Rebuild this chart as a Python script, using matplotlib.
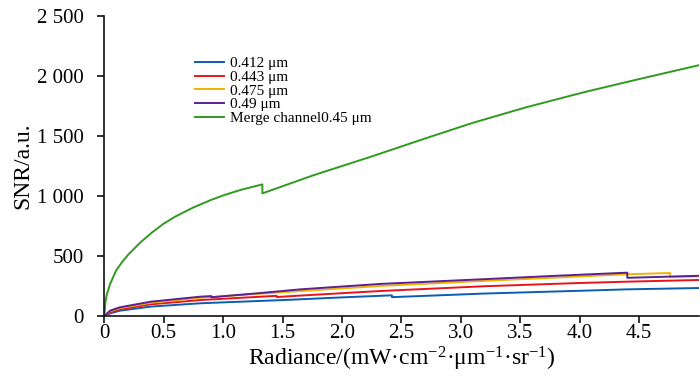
import matplotlib
matplotlib.use("Agg")
import matplotlib.pyplot as plt
from matplotlib.ticker import FuncFormatter

plt.rcParams['font.family'] = ['Liberation Serif', 'DejaVu Serif']
plt.rcParams['mathtext.fontset'] = 'custom'
plt.rcParams['mathtext.rm'] = 'Liberation Serif'
plt.rcParams['mathtext.it'] = 'Liberation Serif:italic'

# values (x = radiance, y = SNR)
x412 = [0, 0.05, 0.13, 0.39, 0.81, 1.56, 2.0, 2.42, 2.42, 3.2, 4.0, 4.4, 5.0]
y412 = [0, 22, 44, 78, 106, 135, 155, 172, 157, 187, 210, 222, 233]

x443 = [0, 0.05, 0.13, 0.39, 0.81, 1.45, 1.45, 1.65, 2.32, 3.2, 4.0, 4.4, 5.0]
y443 = [0, 30, 55, 97, 133, 168, 158, 170, 208, 248, 275, 286, 300]

x475 = [0, 0.05, 0.13, 0.39, 0.81, 1.3, 1.65, 2.32, 3.2, 3.8, 4.4, 4.76, 4.76, 5.0]
y475 = [0, 40, 65, 110, 152, 185, 208, 250, 293, 320, 348, 358, 326, 330]

x490 = [0, 0.05, 0.13, 0.39, 0.81, 0.9, 0.9, 1.3, 1.65, 2.32, 3.2, 3.8, 4.4, 4.4, 5.0]
y490 = [0, 45, 72, 119, 161, 166, 156, 190, 222, 267, 307, 335, 361, 318, 335]

xmerge = [0, 0.01, 0.02, 0.05, 0.1, 0.15, 0.2, 0.3, 0.4, 0.5, 0.6, 0.75, 0.9, 1.0, 1.15, 1.33, 1.33,
          1.75, 2.25, 2.7, 3.1, 3.55, 4.05, 4.5, 5.0]
ymerge = [0, 120, 175, 270, 380, 450, 510, 610, 695, 770, 830, 905, 968, 1005, 1052, 1097, 1022,
          1170, 1330, 1480, 1610, 1740, 1869, 1975, 2090]

labels = ['0.412 μm', '0.443 μm', '0.475 μm', '0.49 μm', 'Merge channel0.45 μm']
colors = ['#0a5cb4', '#e8141c', '#f2b200', '#5b1f96', '#2e9b1e']

fig = plt.figure(figsize=(7, 3.83), dpi=100)
ax = fig.add_axes([0.149, 0.175, 0.849, 0.783])

series = [(x412, y412), (x443, y443), (x475, y475), (x490, y490), (xmerge, ymerge)]
for (xs, ys), lab, c in zip(series, labels, colors):
    ax.plot(xs, ys, color=c, linewidth=1.4, label=lab)

ax.set_xlim(0, 5)
ax.set_ylim(0, 2500)
ax.set_xticks([0, 0.5, 1.0, 1.5, 2.0, 2.5, 3.0, 3.5, 4.0, 4.5])
ax.set_yticks([0, 500, 1000, 1500, 2000, 2500])
ax.xaxis.set_major_formatter(FuncFormatter(lambda v, p: '0' if v == 0 else '%.1f' % v))
ax.yaxis.set_major_formatter(FuncFormatter(lambda v, p: '{:,}'.format(int(v)).replace(',', ' ')))
ax.tick_params(direction='out', length=5, width=1.2, labelsize=15, color='#111111')
ax.tick_params(axis='y', pad=10)
ax.tick_params(axis='x', pad=1)

for s in ['top', 'right']:
    ax.spines[s].set_visible(False)
for s in ['left', 'bottom']:
    ax.spines[s].set_linewidth(1.2)
    ax.spines[s].set_color('#111111')

ax.set_xlabel('Radiance/(mW·cm$^{-2}$·μm$^{-1}$·sr$^{-1}$)', fontsize=17, labelpad=1)
ax.set_ylabel('SNR/a.u.', fontsize=17, labelpad=2)

ax.legend(loc='upper left', bbox_to_anchor=(0.14, 0.89), frameon=False, fontsize=11,
          handlelength=1.9, handletextpad=0.35, labelspacing=0.0, borderpad=0)

fig.savefig('out.png', dpi=100)
